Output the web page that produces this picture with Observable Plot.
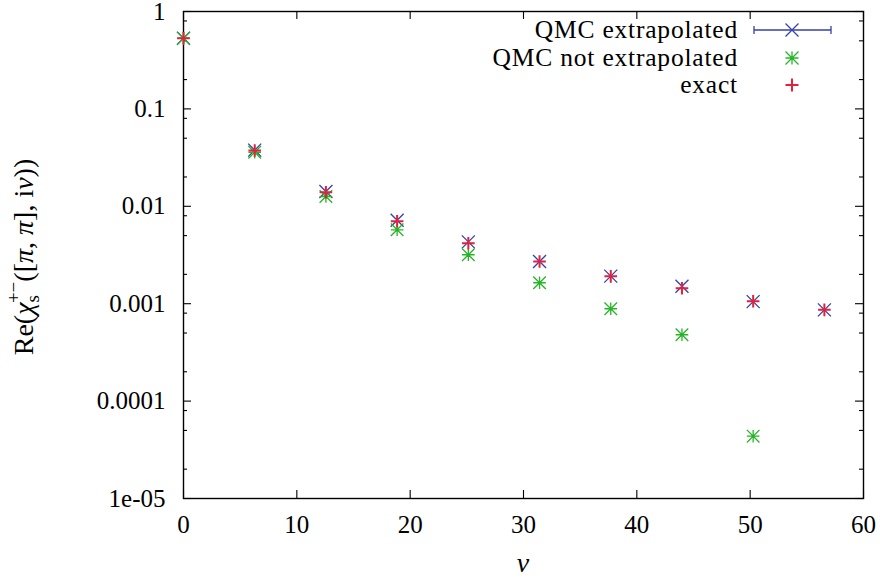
<!DOCTYPE html>
<html><head><meta charset="utf-8">
<script src="https://cdn.jsdelivr.net/npm/d3@7"></script>
<script src="https://cdn.jsdelivr.net/npm/@observablehq/plot@0.6"></script>
<style>
html,body{margin:0;padding:0;background:#fff}
#chart svg text, #chart svg tspan, #chart svg { font-family: "Liberation Serif", serif !important; }
</style>
</head><body><div id="chart"></div>
<script>
// ---- data ----
const nu = [0, 6.283, 12.566, 18.850, 25.133, 31.416, 37.699, 43.982, 50.265, 56.549];
const qmcExtrap = [0.532, 0.0377, 0.0142, 0.0072, 0.00431, 0.00271, 0.00192, 0.00151, 0.00105, 0.000865];
const qmcNotExtrap = [0.532, 0.0359, 0.0126, 0.00574, 0.00318, 0.00164, 0.000887, 0.00048, 0.0000436, null];
const exact = [0.532, 0.0374, 0.01395, 0.00703, 0.00418, 0.00271, 0.00191, 0.00144, 0.00106, 0.000865];
const seriesNames = ["QMC extrapolated", "QMC not extrapolated", "exact"];
const xTicks = [0, 10, 20, 30, 40, 50, 60];
const yTicks = [1, 0.1, 0.01, 0.001, 0.0001, 0.00001];
const yTickLabels = ["1", "0.1", "0.01", "0.001", "0.0001", "1e-05"];
const yMinorTicks = [0.8, 0.5, 0.2, 0.08, 0.05, 0.02, 0.008, 0.005, 0.002,
  0.0008, 0.0005, 0.0002, 0.00008, 0.00005, 0.00002];

// ---- styles ----
const colors = ["#3542a8", "#27b527", "#e4203a"];
const W = 880, H = 581, mL = 183, mR = 17, mT = 11, mB = 83;
const pw = W - mL - mR, ph = H - mT - mB;
const font = "Liberation Serif";

const sym = {
  times: {draw(c, s) {const r = Math.sqrt(s / Math.PI); c.moveTo(-r, -r); c.lineTo(r, r); c.moveTo(-r, r); c.lineTo(r, -r);}},
  plus: {draw(c, s) {const r = Math.sqrt(s / Math.PI); c.moveTo(-r, 0); c.lineTo(r, 0); c.moveTo(0, -r); c.lineTo(0, r);}},
  star: {draw(c, s) {const r = Math.sqrt(s / Math.PI); c.moveTo(-r, 0); c.lineTo(r, 0); c.moveTo(0, -r); c.lineTo(0, r);
    c.moveTo(-r, -r); c.lineTo(r, r); c.moveTo(-r, r); c.lineTo(r, -r);}}
};

const rows = (vals) => nu.map((x, i) => ({x, y: vals[i]})).filter(d => d.y != null);
const fmt = (d) => yTickLabels[yTicks.indexOf(d)] ?? "";

const chart = Plot.plot({
  width: W, height: H,
  marginLeft: mL, marginRight: mR, marginTop: mT, marginBottom: mB,
  style: {"font-family": font, "font-size": "25px", background: "#fff", color: "#000"},
  x: {domain: [0, 60]},
  y: {type: "log", domain: [0.00001, 1]},
  marks: [
    // inward ticks on all four sides (gnuplot style)
    Plot.tickY(yTicks, {y: d => d, insetRight: pw - 8, stroke: "#000", strokeWidth: 1.1}),
    Plot.tickY(yTicks, {y: d => d, insetLeft: pw - 8, stroke: "#000", strokeWidth: 1.1}),
    Plot.tickY(yMinorTicks, {y: d => d, insetRight: pw - 4, stroke: "#000", strokeWidth: 1.1}),
    Plot.tickY(yMinorTicks, {y: d => d, insetLeft: pw - 4, stroke: "#000", strokeWidth: 1.1}),
    Plot.tickX(xTicks, {x: d => d, insetTop: ph - 8, stroke: "#000", strokeWidth: 1.1}),
    Plot.tickX(xTicks, {x: d => d, insetBottom: ph - 8, stroke: "#000", strokeWidth: 1.1}),
    Plot.axisX({anchor: "bottom", ticks: xTicks, tickSize: 0, tickPadding: 17, label: null}),
    Plot.axisY({anchor: "left", ticks: yTicks, tickSize: 0, tickPadding: 18, tickFormat: fmt, label: null}),
    Plot.frame({stroke: "#000", strokeWidth: 1.4}),
    Plot.dot(rows(qmcExtrap), {x: "x", y: "y", symbol: sym.times, r: 6.5, fill: "none", stroke: colors[0], strokeWidth: 1.3}),
    Plot.dot(rows(qmcNotExtrap), {x: "x", y: "y", symbol: sym.star, r: 6.3, fill: "none", stroke: colors[1], strokeWidth: 1.3}),
    Plot.dot(rows(exact), {x: "x", y: "y", symbol: sym.plus, r: 6.3, fill: "none", stroke: colors[2], strokeWidth: 2})
  ]
});
document.getElementById("chart").appendChild(chart);

const svg = d3.select(chart);
svg.attr("font-family", font).attr("font-size", 25).style("font-family", font, "important");

// y-axis title
const yl = svg.append("text")
  .attr("transform", "translate(33,257) rotate(-90)")
  .attr("text-anchor", "middle").attr("font-size", 28).attr("fill", "#000");
yl.append("tspan").text("Re(");
yl.append("tspan").attr("font-style", "italic").text("χ");
yl.append("tspan").attr("font-size", 19).attr("dy", 6).text("s");
yl.append("tspan").attr("font-size", 19).attr("dx", -8).attr("dy", -19).text("+−");
yl.append("tspan").attr("dy", 13).text("([");
yl.append("tspan").attr("font-style", "italic").text("π");
yl.append("tspan").text(", ");
yl.append("tspan").attr("font-style", "italic").text("π");
yl.append("tspan").text("], i");
yl.append("tspan").attr("font-style", "italic").text("ν");
yl.append("tspan").text("))");

// x-axis title
svg.append("text").attr("x", mL + pw / 2).attr("y", 572)
  .attr("text-anchor", "middle").attr("font-size", 28)
  .attr("font-style", "italic").attr("fill", "#000").text("ν");

// legend
const legY = [30, 58, 85];
const syms = [sym.times, sym.star, sym.plus];
const sw = [1.3, 1.3, 2];
seriesNames.forEach((name, i) => {
  svg.append("text").attr("x", 738).attr("y", legY[i]).attr("dy", "0.3em")
    .attr("text-anchor", "end").attr("font-size", 25.5)
    .attr("letter-spacing", 0.8).attr("fill", "#000").text(name);
  svg.append("path").attr("transform", `translate(792,${legY[i]})`)
    .attr("d", d3.symbol(syms[i], Math.PI * 6.5 * 6.5)())
    .attr("fill", "none").attr("stroke", colors[i]).attr("stroke-width", sw[i]);
});
svg.append("path")
  .attr("d", `M754,${legY[0]}H831M754,${legY[0] - 4}V${legY[0] + 4}M831,${legY[0] - 4}V${legY[0] + 4}`)
  .attr("fill", "none").attr("stroke", colors[0]).attr("stroke-width", 1.3);

// make every text element explicitly use the serif family
svg.selectAll("text, tspan").attr("font-family", font).style("font-family", font, "important");
</script>
</body></html>
